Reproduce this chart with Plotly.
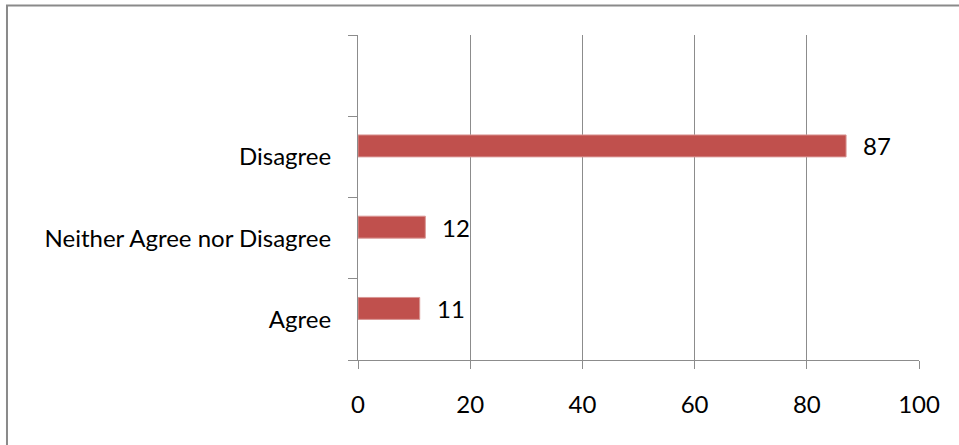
import plotly.graph_objects as go

categories = ["Agree", "Neither Agree nor Disagree", "Disagree", " "]
values = [11, 12, 87, None]
x_ticks = [0, 20, 40, 60, 80, 100]

bar_color = "#C0504D"
grid_color = "#8C8C8C"
font = dict(family="Lato", size=24, color="#000000")

fig = go.Figure()
fig.add_trace(go.Bar(
    y=categories, x=values, orientation="h",
    marker=dict(color=bar_color, line=dict(color="#D99694", width=1)),
    width=0.27, offset=0,
    hoverinfo="skip",
))

for c, v in zip(categories, values):
    if v is None:
        continue
    fig.add_annotation(
        x=v, y=c, text=str(v), showarrow=False,
        xanchor="left", yanchor="middle", xshift=15, yshift=11,
        font=font,
    )

fig.update_layout(
    width=959, height=445,
    margin=dict(l=358, r=40, t=35, b=85),
    paper_bgcolor="white", plot_bgcolor="white",
    showlegend=False,
    font=font,
    xaxis=dict(
        range=[0, 100], tickvals=x_ticks, showgrid=True, gridcolor=grid_color,
        gridwidth=1, zeroline=False, showline=True, linecolor=grid_color,
        ticks="outside", ticklen=8, tickcolor=grid_color,
        ticklabelstandoff=15, tickfont=font, fixedrange=True,
    ),
    yaxis=dict(
        type="category", categoryorder="array", categoryarray=categories,
        range=[-0.5, 3.5], tickson="boundaries", showgrid=False,
        showline=True, linecolor=grid_color, ticks="outside", ticklen=9,
        tickcolor=grid_color, ticklabelstandoff=21, tickfont=font,
        fixedrange=True,
    ),
    shapes=[dict(
        type="rect", xref="paper", yref="paper",
        x0=-0.6257, x1=1.3, y0=-0.5, y1=1.0908,
        line=dict(color="#8A8A8A", width=2), fillcolor="rgba(0,0,0,0)",
        layer="below",
    )],
)

fig.write_html(
    "out.html",
    config={"displayModeBar": False, "staticPlot": True},
    post_script="document.body.style.margin='0';document.body.style.overflow='hidden';",
)
